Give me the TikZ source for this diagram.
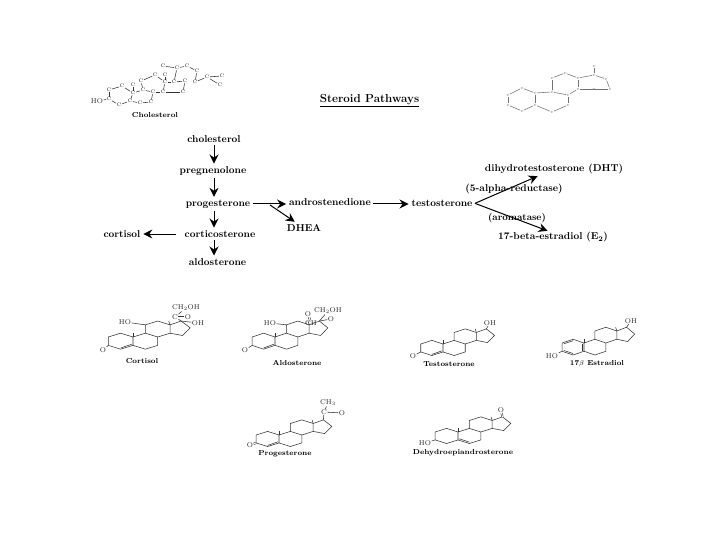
\documentclass[tikz,border=0pt]{standalone}
\usetikzlibrary{arrows.meta}

\tikzset{
  bond/.style={line width=.55pt,black!80},
  pathname/.style={font=\fontsize{10}{11}\selectfont\bfseries,inner sep=1pt,outer sep=1.5pt},
  caption/.style={font=\fontsize{7.2}{8}\selectfont\bfseries,inner sep=0pt},
  atom/.style={font=\fontsize{7}{8}\selectfont,inner sep=.4pt,black!85},
  tinyatom/.style={font=\fontsize{5}{5}\selectfont,inner sep=.3pt,black!85},
  pathstep/.style={-{Stealth[length=9pt,width=9pt,inset=3pt]},line width=1pt,shorten >=.5pt}
}

%Four fused rings, positions named r1 ... r17
\newcommand{\steroidrings}{
  \foreach \n/\x/\y in {1/-9.5/-5,2/-19/0,3/-19/11,4/-9.5/16,5/0/11,6/9.5/16,7/19/11,8/19/0,9/9.5/-5,10/0/0,
    11/9.5/-16,12/19/-21,13/28.5/-16,14/28.5/-5,15/38/-2,16/44/-12,17/37/-21}
    \coordinate (r\n) at (\x,\y);
  \draw[bond] (r10)--(r1)--(r2)--(r3)--(r4)--(r5)--cycle;
  \draw[bond] (r5)--(r6)--(r7)--(r8)--(r9)--(r10);
  \draw[bond] (r9)--(r11)--(r12)--(r13)--(r14)--(r8);
  \draw[bond] (r13)--(r17)--(r16)--(r15)--(r14);
  \draw[bond] (r10)--+(0,-5);
  \draw[bond] (r13)--+(-1,-5);
}

\begin{document}
\begin{tikzpicture}[x=1pt,y=-1pt]
\useasboundingbox (0,0) rectangle (720,540);

%*** Title ***
\node[font=\fontsize{11.6}{13}\selectfont\bfseries,inner sep=0pt] (title) at (369.5,101) {\underline{Steroid Pathways}};

%*** Pathway ***
\node[pathname] (chol) at (214,139.5) {cholesterol};
\node[pathname] (preg) at (213,171) {pregnenolone};
\node[pathname] (prog) at (218,204) {progesterone};
\node[pathname] (cort) at (220,234) {corticosterone};
\node[pathname] (aldo) at (217.5,262) {aldosterone};
\node[pathname] (cortisol) at (122,234) {cortisol};
\node[pathname,anchor=base] (andro) at (330,206) {androstenedione};
\node[pathname] (dhea) at (304,228) {DHEA};
\node[pathname,anchor=base] (testo) at (442,206.5) {testosterone};
\node[pathname] (dht) at (554,169) {dihydrotestosterone (DHT)};
\node[pathname] (estra) at (553,237) {17-beta-estradiol (E$_{\mathbf 2}$)};

%Arrows
\draw[pathstep] (chol) -- (chol|-preg.north);
\draw[pathstep] (chol|-preg.south) -- (chol|-prog.north);
\draw[pathstep] (chol|-prog.south) -- (chol|-cort.north);
\draw[pathstep] (chol|-cort.south) -- (chol|-aldo.north);
\coordinate (cortstart) at (176,234);
\draw[pathstep] (cortstart) -- (cortisol.east|-cortstart);
\coordinate (mainline) at (prog.east);
\draw[pathstep] (mainline) -- (andro.west|-mainline);
\coordinate (branch) at (270,205);
\draw[pathstep] (branch) -- (dhea);
\draw[pathstep] (andro.east|-mainline) -- (testo.west|-mainline);
\draw[pathstep] (testo.east) -- (538,176);
\draw[pathstep] (testo.east) -- (548,231);

%Enzymes
\node[pathname] (reduct) at (514,189) {(5-alpha-reductase)};
\node[pathname,font=\fontsize{9.6}{11}\selectfont\bfseries] (arom) at (517,218) {(aromatase)};

%*** Cholesterol ***
\foreach \n/\x/\y in {3/109/99,2/109/90,1/122/86,10/133/93,5/130/101,4/119/105,9/143/90,8/153/92,7/151/102,6/140/103,
  11/141/81,12/155/75,13/165/82,14/163/92,15/183/92,16/185/81,17/174/82,20/177/68,21/163/66,22/187/66,23/197/71,
  24/195/82,25/207/77,26/222/76,27/220/85,18/165/75,19/133/85}
  \node[tinyatom] (c\n) at (\x,\y) {C};
\foreach \a/\b in {3/2,2/1,1/10,10/5,5/4,4/3,10/9,9/8,8/7,7/6,6/5,9/11,11/12,12/13,13/14,14/8,13/17,17/16,16/15,15/14,
  17/20,20/21,20/22,22/23,23/24,24/25,25/26,25/27,13/18,10/19}
  \draw[bond] (c\a) -- (c\b);
\node[atom] (chol-ho) at (97,101) {HO};
\draw[bond] (chol-ho) -- (c3);
\node[caption] (chol-cap) at (155,115) {Cholesterol};

%*** Androstane frame, top right ***
\foreach \n/\x/\y in {1/522/88,2/535/93,3/535/105,4/522/111,5/508/105,6/508/95,7/552/92,8/568/95,9/568/105,10/552/112,
  11/552/78,12/565/73,13/578/78,14/578/89,15/594/75,16/606/79,17/610/89,18/594/89,19/594/66}
  \node[tinyatom,font=\fontsize{3}{3}\selectfont] (t\n) at (\x,\y) {C};
\foreach \a/\b in {1/2,2/3,3/4,4/5,5/6,6/1,2/7,7/8,8/9,9/10,10/3,7/11,11/12,12/13,13/14,14/8,13/15,15/16,16/17,17/14,15/19}
  \draw[bond,black!55] (t\a) -- (t\b);

%*** Cortisol ***
\begin{scope}[shift={(133,337)},xscale=1.3,yscale=.76]
\steroidrings
\draw[bond] (-9.5,14.5) -- (-1,9.5);
\end{scope}
\node[atom] (cs-o) at (103,350) {O};
\draw[bond] (cs-o) -- (r3);
\node[atom] (cs-ho) at (125,322) {HO};
\draw[bond] (cs-ho) -- (r11);
\node[atom] (cs-c) at (175,317) {C};
\node[atom] (cs-keto) at (188,317) {O};
\node[atom] (cs-side) at (186,308) {CH$_2$OH};
\node[atom] (cs-oh) at (198,323) {OH};
\draw[bond] (r17) -- (cs-c);
\draw[bond,double,double distance=1pt] (cs-c) -- (cs-keto);
\draw[bond] (cs-c) -- (cs-side);
\draw[bond] (r17) -- (cs-oh);
\node[caption] (cs-cap) at (142,361) {Cortisol};

%*** Aldosterone ***
\begin{scope}[shift={(275,337)},xscale=1.2,yscale=.76]
\steroidrings
\draw[bond] (-9.5,14.5) -- (-1,9.5);
\end{scope}
\node[atom] (al-o) at (245,350) {O};
\draw[bond] (al-o) -- (r3);
\node[atom] (al-ho) at (270,323) {HO};
\draw[bond] (al-ho) -- (r11);
\node[atom] (al-ch) at (311,323) {CH};
\node[atom] (al-ald) at (308,314) {O};
\node[atom] (al-side) at (328,311) {CH$_2$OH};
\node[atom] (al-keto) at (331,319) {O};
\draw[bond,double,double distance=1pt] (al-ch) -- (al-ald);
\draw[bond] (r17) -- (al-side);
\draw[bond] (r17) -- (al-keto);
\node[caption] (al-cap) at (297,363) {Aldosterone};

%*** Testosterone ***
\begin{scope}[shift={(443,344)},xscale=1.17,yscale=.72]
\steroidrings
\draw[bond] (-9.5,14.5) -- (-1,9.5);
\end{scope}
\node[atom] (te-o) at (413,356) {O};
\draw[bond] (te-o) -- (r3);
\node[atom] (te-oh) at (490,323) {OH};
\draw[bond] (te-oh) -- (r17);
\node[caption] (te-cap) at (449,364) {Testosterone};

%*** Estradiol ***
\begin{scope}[shift={(584,343)},xscale=1.15,yscale=.75]
\steroidrings
\draw[bond] (-17.5,1) -- (-9.5,-3);
\draw[bond] (-9.5,14) -- (-17.5,10);
\draw[bond] (-1.2,10) -- (-1.2,1);
\end{scope}
\node[atom] (es-ho) at (552,356) {HO};
\draw[bond] (es-ho) -- (r3);
\node[atom] (es-oh) at (631,321) {OH};
\draw[bond] (es-oh) -- (r17);
\node[caption] (es-cap) at (597,364) {17$\beta$ Estradiol};

%*** Progesterone ***
\begin{scope}[shift={(279,435)},xscale=1.2,yscale=.72]
\steroidrings
\draw[bond] (-9.5,14.5) -- (-1,9.5);
\end{scope}
\node[atom] (pr-o) at (250,445) {O};
\draw[bond,double,double distance=1pt] (pr-o) -- (r3);
\node[atom] (pr-c) at (324,412) {C};
\node[atom] (pr-keto) at (342,413) {O};
\node[atom] (pr-me) at (328,403) {CH$_3$};
\draw[bond] (r17) -- (pr-c);
\draw[bond] (pr-c) -- (pr-keto);
\draw[bond] (pr-c) -- (pr-me);
\node[caption] (pr-cap) at (285,454) {Progesterone};

%*** Dehydroepiandrosterone ***
\begin{scope}[shift={(458,432)},xscale=1.2,yscale=.72]
\steroidrings
\draw[bond] (1,9.5) -- (9.5,14);
\end{scope}
\node[atom] (de-ho) at (425,443) {HO};
\draw[bond] (de-ho) -- (r3);
\node[atom] (de-o) at (501,410) {O};
\draw[bond,double,double distance=1pt] (de-o) -- (r17);
\node[caption] (de-cap) at (463,453) {Dehydroepiandrosterone};
\end{tikzpicture}
\end{document}
